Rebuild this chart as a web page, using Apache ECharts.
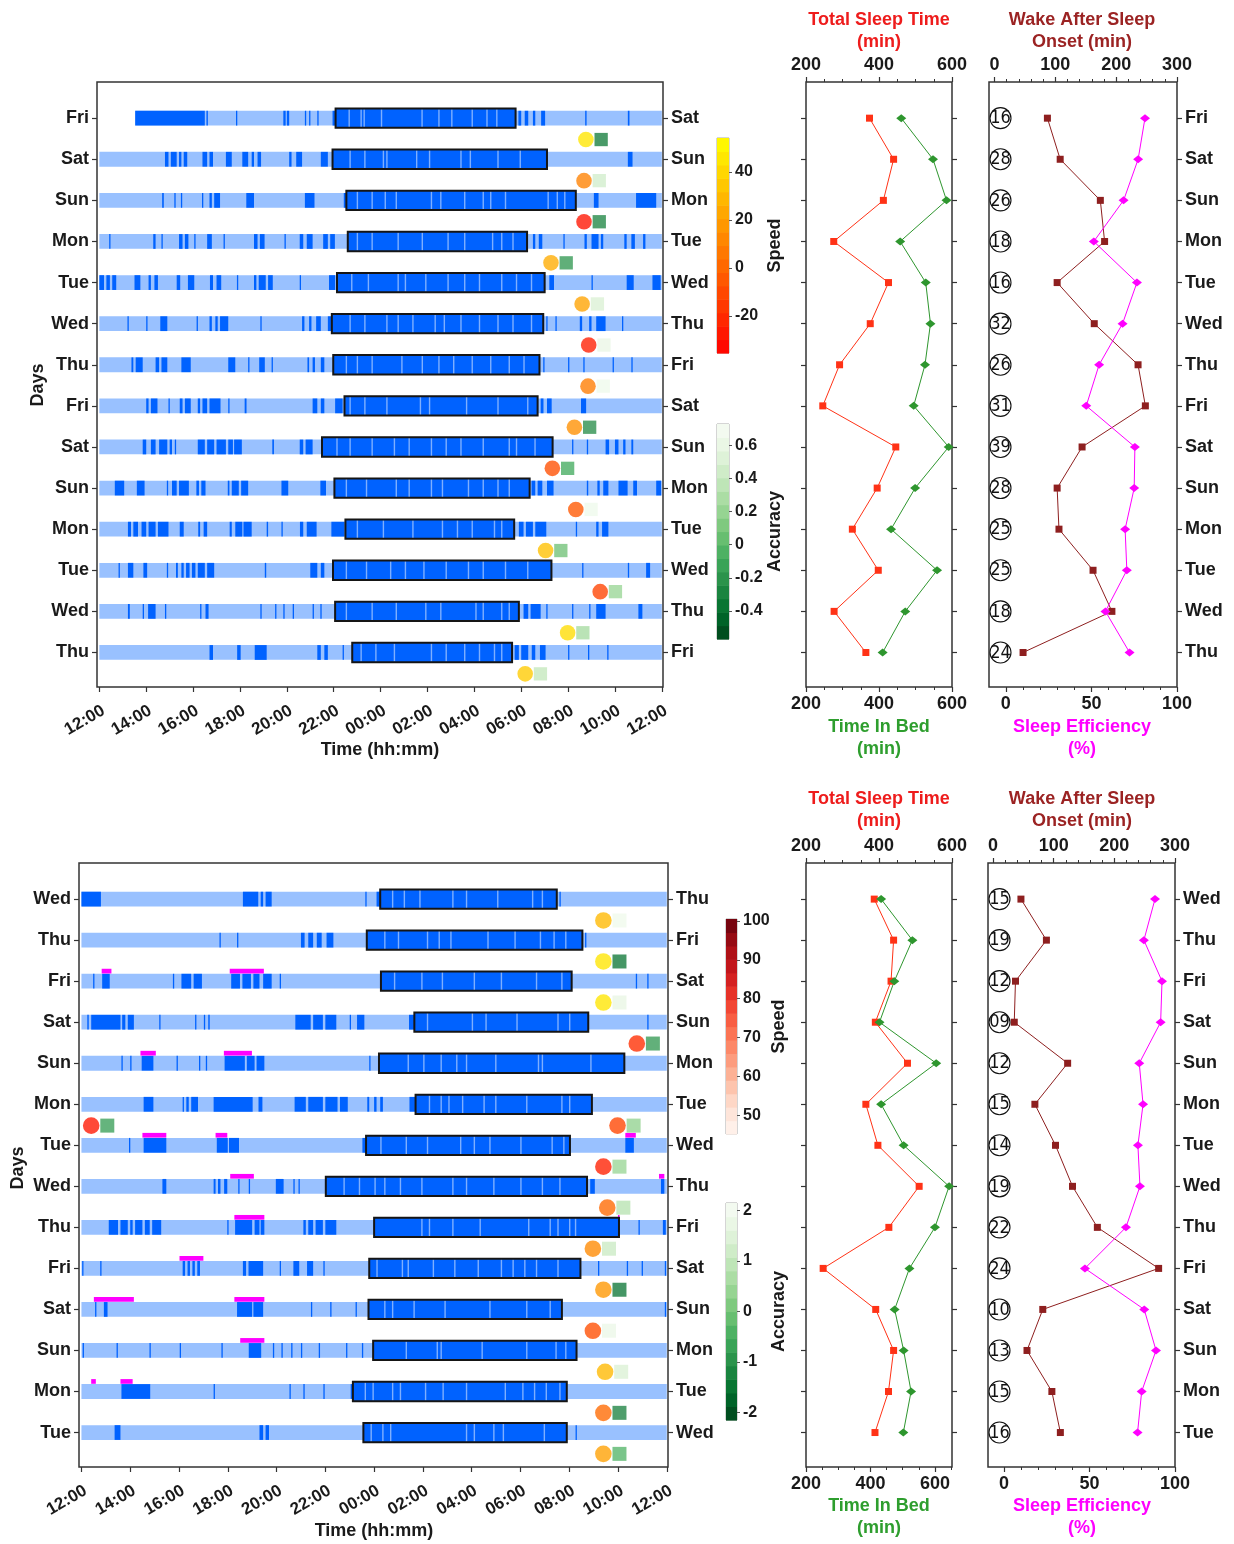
<!DOCTYPE html>
<html><head><meta charset="utf-8">
<script src="https://cdn.jsdelivr.net/npm/echarts@6/dist/echarts.min.js"></script>
<style>html,body{margin:0;padding:0;background:#fff}#c{width:1234px;height:1544px}</style>
</head><body><div id="c"></div><script>
// ================= DATA =================
const timeTickHours = [0,2,4,6,8,10,12,14,16,18,20,22,24];
const timeTickLabels = ['12:00','14:00','16:00','18:00','20:00','22:00','00:00','02:00','04:00','06:00','08:00','10:00','12:00'];
const tstTicks = [200,400,600];
const tstMinorTicks = [250,300,350,450,500,550,650];
const wasoTicks = [0,100,200,300];
const wasoMinorTicks = [20,40,60,80,120,140,160,180,220,240,260,280];
const seTicks = [0,50,100];
const seMinorTicks = [10,20,30,40,60,70,80,90];

// ---------- top panel ----------
const topLeftDays  = ['Fri','Sat','Sun','Mon','Tue','Wed','Thu','Fri','Sat','Sun','Mon','Tue','Wed','Thu'];
const topRightDays = ['Sat','Sun','Mon','Tue','Wed','Thu','Fri','Sat','Sun','Mon','Tue','Wed','Thu','Fri'];
const topBarStart = [1.53,0,0,0,0,0,0,0,0,0,0,0,0,0];
const topBarEnd   = [24,24,24,24,24,24,24,24,24,24,24,24,24,24];
const topActivity = [
 [[1.53,4.5],[4.57,4.63],[5.83,5.88],[7.85,7.95],[8.0,8.1],[8.77,8.82],[8.95,9.0],[9.3,9.35],[9.95,10.08],[17.88,18.0],[18.15,18.3],[18.5,18.6],[18.85,19.02],[20.73,20.79],[22.55,22.62]],
 [[2.8,2.95],[3.05,3.3],[3.4,3.5],[3.6,3.75],[4.4,4.6],[4.7,4.85],[5.4,5.65],[6.1,6.35],[6.5,6.6],[6.75,6.9],[8.1,8.2],[8.4,8.65],[9.45,9.75],[22.55,22.75]],
 [[2.68,2.75],[3.2,3.25],[3.48,3.53],[4.38,4.43],[4.7,4.8],[4.9,5.15],[6.27,6.6],[8.77,9.18],[10.43,10.54],[21.1,21.3],[22.9,23.76]],
 [[0.42,0.47],[2.3,2.4],[2.65,2.7],[3.4,3.55],[3.65,3.8],[4.05,4.1],[4.6,4.8],[5.3,5.35],[6.6,6.75],[6.85,7.05],[7.9,7.95],[8.55,8.7],[8.85,9.1],[9.55,9.75],[9.85,10.05],[18.5,18.6],[18.75,18.9],[19.8,19.85],[20.7,20.8],[21.0,21.3],[21.4,21.5],[22.4,22.5],[22.7,22.85],[23.2,23.3]],
 [[0,0.2],[0.3,0.45],[0.55,0.72],[1.5,1.75],[2.1,2.2],[2.35,2.5],[3.3,3.45],[3.78,4.05],[4.72,4.85],[5.0,5.2],[5.87,5.92],[6.6,6.7],[6.8,7.1],[7.2,7.4],[8.55,8.6],[9.8,10.06],[19.2,19.4],[21.0,21.05],[22.5,22.8],[23.6,23.95]],
 [[1.2,1.25],[2.0,2.05],[2.6,2.9],[4.15,4.2],[4.7,4.8],[4.95,5.05],[5.15,5.5],[6.87,6.92],[8.65,8.75],[8.95,9.05],[9.25,9.45],[9.75,9.9],[19.07,19.12],[19.46,19.51],[20.5,20.6],[20.9,21.0],[21.2,21.6],[22.3,22.35]],
 [[1.37,1.45],[1.55,1.85],[2.4,2.55],[2.65,2.9],[3.5,3.9],[5.5,5.8],[6.35,6.4],[6.82,7.06],[7.35,7.4],[8.88,8.95],[9.1,9.2],[9.45,9.6],[18.94,18.99],[20.0,20.05],[20.65,20.7],[21.9,21.95],[22.7,22.75]],
 [[2.0,2.1],[2.2,2.48],[2.95,3.0],[3.43,3.55],[3.65,3.9],[4.2,4.3],[4.4,4.6],[4.7,5.17],[5.5,5.55],[6.2,6.28],[9.1,9.3],[9.45,9.6],[10.06,10.38],[18.83,18.95],[19.1,19.3],[20.55,20.77]],
 [[1.85,2.0],[2.2,2.4],[2.55,2.9],[3.0,3.1],[3.22,3.27],[4.2,4.5],[4.6,4.9],[5.0,5.4],[5.5,5.7],[5.75,6.08],[7.38,7.45],[8.55,8.7],[8.8,9.1],[20.17,20.22],[20.8,20.85],[21.6,21.75],[22.0,22.15],[22.35,22.45],[22.7,22.78]],
 [[0.66,1.06],[1.6,1.93],[2.88,2.93],[3.1,3.3],[3.4,3.82],[4.14,4.25],[4.35,4.53],[5.48,5.55],[5.65,5.95],[6.05,6.35],[7.77,8.06],[9.43,9.67],[18.44,18.6],[18.7,18.9],[19.1,19.38],[20.8,20.86],[21.25,21.35],[21.5,21.72],[22.15,22.54],[22.78,22.94],[23.76,23.97]],
 [[1.22,1.35],[1.45,1.65],[1.8,2.0],[2.1,2.4],[2.5,2.95],[3.43,3.6],[4.22,4.3],[4.45,4.6],[5.56,5.65],[5.8,6.1],[6.15,6.5],[7.14,7.2],[7.77,7.82],[8.56,8.7],[8.85,9.27],[9.9,10.46],[17.9,18.1],[18.2,18.5],[18.6,19.07],[20.33,20.38],[21.2,21.3],[21.45,21.72]],
 [[0.82,0.87],[1.22,1.45],[1.88,2.04],[2.88,2.93],[3.27,3.35],[3.5,3.6],[3.7,3.85],[3.95,4.1],[4.2,4.5],[4.6,4.9],[7.06,7.12],[9.0,9.3],[9.45,9.6],[20.6,20.65],[22.55,22.6],[23.33,23.5]],
 [[1.22,1.3],[1.85,1.9],[2.08,2.4],[2.8,2.85],[4.3,4.35],[4.53,4.66],[6.87,6.92],[7.5,7.55],[7.85,7.9],[8.25,8.3],[9.1,9.15],[9.43,9.48],[18.1,18.3],[18.4,18.83],[19.07,19.12],[20.17,20.22],[20.9,20.95],[21.2,21.6],[23.0,23.17]],
 [[4.7,4.85],[5.88,6.03],[6.63,7.14],[9.3,9.45],[9.6,9.75],[10.38,10.43],[17.72,17.9],[18.0,18.3],[18.45,18.6],[18.8,19.04],[20.0,20.05],[20.85,20.9],[21.67,21.72]]
];
const topSleep = [[10.08,17.76],[9.95,19.1],[10.54,20.33],[10.6,18.25],[10.14,19.0],[9.92,18.94],[9.98,18.78],[10.46,18.7],[9.5,19.34],[10.03,18.36],[10.5,17.7],[9.97,19.29],[10.06,17.9],[10.79,17.61]];
const topSleepGaps = [
 [10.66,11.17,11.3,12.04,13.77,14.49,15.04,15.91,16.54,16.96],
 [10.7,11.33,12.12,12.27,13.54,14.09,15.43,15.83,17.01,17.96],
 [11.01,11.64,12.2,12.67,14.17,14.57,15.59,16.38,16.7,17.33,19.15,19.54,19.86],
 [11.01,11.64,12.75,13.78,14.88,15.59,16.78,17.17,17.65],
 [10.77,11.48,12.75,13.06,13.93,14.88,15.59,16.22,17.17,17.8,18.44],
 [10.7,11.33,12.27,12.75,13.38,14.33,14.72,15.43,16.22,17.01,17.65,18.44],
 [10.54,11.01,11.64,12.91,13.78,14.49,15.12,15.91,16.7,17.49,18.12],
 [10.7,11.33,12.27,13.7,14.09,15.67,17.01,18.28],
 [10.14,10.7,11.64,12.59,13.22,14.17,14.8,15.43,16.38,17.49,17.8,18.59],
 [10.54,11.4,12.67,13.22,14.17,14.64,15.75,16.38,17.01,17.49],
 [11.01,12.12,13.38,14.64,15.28,15.91,16.86,17.17],
 [10.54,11.4,12.43,13.06,13.85,14.8,15.75,16.38,17.33,18.28],
 [10.54,11.64,12.67,13.93,14.57,16.07,16.38,17.17,17.49],
 [11.17,11.8,12.59,14.17,14.8,15.59,16.22,16.86,17.17]
];
const topMagenta = [[],[],[],[],[],[],[],[],[],[],[],[],[],[]];
const topSpeedRow  = [0,1,2,3,4,5,6,7,8,9,10,11,12,13];
const topSpeedHour = [20.76,20.68,20.68,19.27,20.6,20.88,20.85,20.27,19.33,20.33,19.04,21.37,19.98,18.17];
const topSpeed     = [45,10,-28,25,22,-25,8,15,-8,-5,32,-12,42,36];
const topAccuracy  = [-0.35,0.45,-0.3,-0.2,0.5,0.6,0.65,-0.25,-0.1,0.65,0.05,0.2,0.25,0.38];
const topTST  = [374,440,412,276,426,376,292,246,446,395,327,398,277,364];
const topTIB  = [461,548,585,458,528,541,526,495,591,499,433,559,472,410];
const topWASO = [87,108,174,181,103,164,236,248,144,103,106,162,193,47];
const topSE   = [81.3,77.3,68.8,51.4,76.6,68.2,54.5,47,75.4,75,69.7,70.7,58.2,72.3];
const topCount = [16,28,26,18,16,32,26,31,39,28,25,25,18,24];
const topSpeedRange = [-35.4,54.2];
const topSpeedTicks = [-20,0,20,40];
const topAccRange = [-0.57,0.73];
const topAccTicks = [-0.4,-0.2,0,0.2,0.4,0.6];

// ---------- bottom panel ----------
const botLeftDays  = ['Wed','Thu','Fri','Sat','Sun','Mon','Tue','Wed','Thu','Fri','Sat','Sun','Mon','Tue'];
const botRightDays = ['Thu','Fri','Sat','Sun','Mon','Tue','Wed','Thu','Fri','Sat','Sun','Mon','Tue','Wed'];
const botBarStart = [0,0,0,0,0,0,0,0,0,0,0,0,0,0];
const botBarEnd   = [24,24,24,24,24,24,24,24,24,24,24,24,24,24];
const botActivity = [
 [[0,0.8],[6.62,7.25],[7.35,7.45],[7.55,7.8],[11.64,11.68],[12.1,12.25],[19.6,19.65]],
 [[5.66,5.7],[6.38,6.42],[9.0,9.15],[9.3,9.5],[9.65,9.85],[10.05,10.33],[11.72,11.76],[20.65,20.7]],
 [[0.48,0.52],[0.85,1.16],[3.75,3.79],[4.1,4.5],[4.6,4.94],[6.14,6.5],[6.6,6.95],[7.05,7.3],[7.45,7.8],[8.13,8.17],[22.73,22.77],[23.2,23.24]],
 [[0.24,0.3],[0.4,1.6],[1.67,1.8],[1.9,2.15],[3.19,3.24],[4.66,4.7],[5.02,5.06],[5.2,5.26],[8.77,9.4],[9.5,9.9],[10.0,10.45],[11.0,11.05],[11.3,11.6],[13.43,13.64],[23.2,23.24]],
 [[1.64,1.68],[2.0,2.04],[2.47,2.95],[3.9,3.94],[4.82,4.86],[5.1,5.14],[5.87,6.7],[6.78,7.1],[7.18,7.5],[11.8,11.84]],
 [[2.55,2.95],[4.15,4.2],[4.3,4.4],[4.5,4.78],[5.42,7.02],[7.26,7.42],[8.74,9.2],[9.3,9.9],[10.0,10.5],[10.6,10.92],[11.72,11.8],[12.0,12.1],[12.25,12.36],[13.45,13.72]],
 [[1.95,1.99],[2.55,3.48],[5.55,6.0],[6.05,6.46],[11.52,11.67],[22.3,22.65]],
 [[3.32,3.48],[5.42,5.5],[5.6,5.7],[5.85,5.98],[6.43,6.47],[6.86,6.9],[7.97,8.29],[8.69,8.73],[8.9,8.94],[20.86,21.05],[23.76,23.9]],
 [[1.12,1.5],[1.6,1.9],[2.0,2.1],[2.2,2.5],[2.6,2.8],[2.9,3.27],[5.98,6.02],[6.3,7.0],[7.1,7.3],[7.35,7.5],[9.1,9.2],[9.3,9.5],[9.6,9.9],[10.0,10.45],[12.0,12.04],[22.84,22.88],[23.84,23.96]],
 [[0.03,0.07],[0.77,0.81],[4.15,4.25],[4.35,4.45],[4.55,4.65],[4.75,4.86],[6.62,6.75],[6.85,7.45],[8.13,8.17],[8.69,8.93],[9.25,9.5],[9.92,9.96],[21.18,21.22],[22.36,22.4],[22.97,23.01],[23.92,23.96]],
 [[0.56,0.6],[0.92,1.07],[6.38,7.0],[7.05,7.45],[9.41,9.45],[10.2,10.24],[11.24,11.28],[23.92,23.96]],
 [[0.05,0.09],[1.44,1.48],[2.79,2.83],[4.03,4.07],[5.74,5.78],[6.86,7.37],[7.85,7.89],[8.2,8.24],[8.6,8.64],[9.0,9.04],[9.73,9.77],[10.85,10.89],[11.5,11.54]],
 [[1.64,2.82],[5.42,5.46],[8.53,8.57],[9.1,9.14],[9.92,9.96],[11.04,11.13]],
 [[1.36,1.6],[7.3,7.45],[7.55,7.69],[20.26,20.3]]
];
const botSleep = [[12.25,19.49],[11.7,20.54],[12.28,20.1],[13.65,20.78],[12.2,22.26],[13.7,20.93],[11.67,20.03],[10.02,20.73],[12.0,22.04],[11.8,20.46],[11.77,19.7],[11.96,20.3],[11.13,19.9],[11.56,19.9]];
const botSleepGaps = [
 [12.76,13.24,13.88,15.23,15.79,17.07,18.5,18.9],
 [12.44,13.0,14.19,14.67,15.15,16.67,17.78,18.82,19.38,19.86],
 [12.84,13.96,14.8,16.11,17.22,18.66,19.7],
 [14.19,16.03,16.59,17.86,19.54,20.02],
 [13.4,14.04,14.75,15.39,15.79,16.99,18.74,18.9,20.89],
 [14.27,14.75,15.07,15.63,16.51,16.99,18.26,19.7,20.02],
 [12.28,13.32,14.19,15.55,16.11,16.75,18.02,19.3,19.78],
 [10.77,11.4,12.04,12.44,13.08,13.96,15.23,15.79,16.91,18.02,18.9,19.62],
 [13.96,14.27,15.23,16.35,18.34,19.22,19.54,20.02,20.26],
 [12.12,13.16,13.4,14.43,15.31,16.27,17.22,17.7,18.18,18.66,19.54],
 [12.44,12.76,13.64,14.91,16.75,18.26,19.22],
 [13.32,14.59,14.75,16.43,18.26,19.46,19.86],
 [11.64,11.96,12.76,13.08,14.11,14.83,15.79,17.38,18.1,18.58,19.06,19.62],
 [11.88,12.36,12.68,15.79,16.11,16.91,17.3,18.98]
];
const botMagenta = [[],[],[[0.83,1.23],[6.08,7.48]],[],[[2.42,3.05],[5.84,6.99]],[],[[2.5,3.48],[5.5,5.98],[22.3,22.73]],[[6.1,7.07],[23.68,23.9]],[[6.27,7.5],[22.0,22.06]],[[4.02,5.0]],[[0.51,2.15],[6.27,7.5]],[[6.51,7.5]],[[0.4,0.59],[1.6,2.1]],[]];
const botSpeedRow  = [0,1,2,3,5,5,6,7,8,9,10,11,12,13];
const botSpeedHour = [21.4,21.4,21.4,22.77,0.4,21.98,21.4,21.56,20.97,21.4,20.97,21.47,21.4,21.4];
const botSpeed     = [85,95,95,55,50,60,52,68,75,78,62,85,68,80];
const botAccuracy  = [1.9,-1.5,1.7,-0.9,-0.8,0.3,0.4,0.8,1.1,-1.5,1.8,1.4,-1.3,-0.4];
const botTST  = [387,440,433,390,478,364,397,510,427,247,391,440,426,389];
const botTIB  = [433,530,474,428,604,433,503,644,600,521,475,503,526,502];
const botWASO = [46,88,37,35,123,69,103,131,172,273,82,56,97,111];
const botSE   = [88.3,81.8,92.4,91.6,79.1,81.3,78.3,79.5,71.3,47.3,82,88.9,80.5,78.1];
const botCount = [15,19,12,9,12,15,14,19,22,24,10,13,15,16];
const botSpeedRange = [45.2,100.5];
const botSpeedTicks = [50,60,70,80,90,100];
const botAccRange = [-2.15,2.15];
const botAccTicks = [-2,-1,0,1,2];

// ================= STYLE / HELPERS =================
const FF = '"Liberation Sans", Arial, Helvetica, sans-serif';
const TXT = '#1a1a1a';
const DARK = '#0062ff', LIGHT = '#99c1ff', GAP = '#8cb8ff';
const Y_MIN = -0.88, Y_MAX = 13.84;
const rowIdx = topLeftDays.map((d,i)=>i);

function hex2rgb(h){h=h.replace('#','');return [parseInt(h.substr(0,2),16),parseInt(h.substr(2,2),16),parseInt(h.substr(4,2),16)];}
function stopsMap(stops){const s=stops.map(hex2rgb);return function(t){t=Math.max(0,Math.min(1,t));const n=s.length-1;const i=Math.min(Math.floor(t*n),n-1);const f=t*n-i;const c=[0,1,2].map(k=>Math.round(s[i][k]+(s[i+1][k]-s[i][k])*f));return 'rgb('+c.join(',')+')';};}
const autumn = t=>{t=Math.max(0,Math.min(1,t));return 'rgb(255,'+Math.round(255*t)+',0)';};
const reds = stopsMap(['#fff5f0','#fee0d2','#fcbba1','#fc9272','#fb6a4a','#ef3b2c','#cb181d','#a50f15','#67000d']);
const greensBase = stopsMap(['#f7fcf5','#e5f5e0','#c7e9c0','#a1d99b','#74c476','#41ab5d','#238b45','#006d2c','#00441b']);
const greensR = t=>greensBase(1-t);
const norm = (r)=>v=>(v-r[0])/(r[1]-r[0]);

const grids=[], xAxes=[], yAxes=[], series=[], graphics=[];
function addGrid(l,t,w,h,frame){grids.push({left:l,top:t,width:w,height:h,show:true,borderColor:frame?'#333':'#aaa',borderWidth:frame?1.5:1,backgroundColor:'transparent'});return grids.length-1;}
function addX(a){xAxes.push(a);return xAxes.length-1;}
function addY(a){yAxes.push(a);return yAxes.length-1;}
const lblStyle = {fontSize:18,fontWeight:'bold',fontFamily:FF,color:TXT};

function timeAxis(g){return {type:'value',gridIndex:g,position:'bottom',min:-0.1,max:24.05,
  axisLine:{show:false,onZero:false},splitLine:{show:false},
  axisTick:{show:true,customValues:timeTickHours,length:5,lineStyle:{color:'#333',width:1.2}},
  axisLabel:Object.assign({customValues:timeTickHours,rotate:30,margin:15,align:'right',verticalAlign:'top',formatter:v=>timeTickLabels[timeTickHours.indexOf(v)]},lblStyle,{fontSize:17})};}
function dayAxis(g,pos,labels,ticks){return {type:'value',gridIndex:g,position:pos,inverse:true,min:Y_MIN,max:Y_MAX,
  axisLine:{show:false,onZero:false},splitLine:{show:false},
  axisTick:{show:ticks!==false,customValues:rowIdx,length:5,lineStyle:{color:'#333',width:1.2}},
  axisLabel:Object.assign({show:!!labels,customValues:rowIdx,margin:8,formatter:v=>labels?labels[Math.round(v)]:''},lblStyle)};}
function numAxes(g,pos,min,max,majors,minors){
  const base={type:'value',gridIndex:g,position:pos,min:min,max:max,axisLine:{show:false,onZero:false},splitLine:{show:false}};
  const a=addX(Object.assign({},base,{axisTick:{show:true,customValues:majors,length:5,lineStyle:{color:'#333',width:1.2}},
     axisLabel:Object.assign({customValues:majors,margin:8},lblStyle)}));
  addX(Object.assign({},base,{axisTick:{show:true,customValues:minors.filter(v=>v>min&&v<max),length:3,lineStyle:{color:'#333',width:1}},axisLabel:{show:false}}));
  return a;
}
function rowUnit(api,row){return Math.abs(api.coord([0,row+1])[1]-api.coord([0,row])[1]);}
function rectRender(hFrac,color,minW,yOff){return function(p,api){
  const row=api.value(0),s=api.value(1),e=api.value(2);
  const a=api.coord([s,row]),b=api.coord([e,row]);const u=rowUnit(api,row);
  const hh=hFrac*u,yc=a[1]+(yOff||0)*u;
  return {type:'rect',shape:{x:a[0],y:yc-hh/2,width:Math.max(b[0]-a[0],minW),height:hh},style:{fill:color}};};}
function txt(x,y,text,color,size,rot){return {type:'text',x:x,y:y,rotation:rot||0,z:100,
  style:{text:text,fill:color,font:'bold '+(size||18)+'px '+FF,align:'center',verticalAlign:'middle',textAlign:'center',textVerticalAlign:'middle'}};}

function colorbar(g,range,ticks,cmap){
  const xi=addX({type:'value',gridIndex:g,min:0,max:1,show:false});
  const yi=addY({type:'value',gridIndex:g,position:'right',min:range[0],max:range[1],
    axisLine:{show:false,onZero:false},splitLine:{show:false},
    axisTick:{show:true,customValues:ticks,length:3,lineStyle:{color:'#555',width:1}},
    axisLabel:Object.assign({customValues:ticks,margin:6},lblStyle,{fontSize:16})});
  const n=16,bands=[];
  for(let i=0;i<n;i++)bands.push([range[0]+(range[1]-range[0])*i/n,range[0]+(range[1]-range[0])*(i+1)/n,(i+0.5)/n]);
  series.push({type:'custom',xAxisIndex:xi,yAxisIndex:yi,data:bands,silent:true,z:1,renderItem:(p,api)=>{
    const a=api.coord([0,api.value(0)]),b=api.coord([1,api.value(1)]);
    return {type:'rect',shape:{x:a[0],y:b[1],width:b[0]-a[0],height:a[1]-b[1]+0.6},style:{fill:cmap(api.value(2))}};}});
}

function buildPanel(P){
  const gMain=addGrid(P.main[0],P.main[1],P.main[2],P.main[3],true);
  const gT=addGrid(806,P.main[1],146,P.main[3],true);
  const gW=addGrid(P.wasoLeft,P.main[1],P.wasoWidth,P.main[3],true);
  const gS=addGrid(P.cbLeft,P.cbS[0],P.cbW,P.cbS[1],false);
  const gA=addGrid(P.cbLeft,P.cbA[0],P.cbW,P.cbA[1],false);
  // main actogram
  const xm=addX(timeAxis(gMain));
  const ym=addY(dayAxis(gMain,'left',P.left));
  addY(dayAxis(gMain,'right',P.right));
  const light=P.barStart.map((s,i)=>[i,s,P.barEnd[i]]);
  const act=[];P.activity.forEach((r,i)=>r.forEach(seg=>act.push([i,seg[0],seg[1]])));
  const sleep=P.sleep.map((s,i)=>[i,s[0],s[1]]);
  const gaps=[];P.gaps.forEach((r,i)=>r.forEach(h=>gaps.push([i,h,h])));
  const mag=[];P.magenta.forEach((r,i)=>r.forEach(seg=>mag.push([i,seg[0],seg[1]])));
  const base={type:'custom',xAxisIndex:xm,yAxisIndex:ym,silent:true,encode:{x:[1,2],y:0}};
  series.push(Object.assign({},base,{data:light,z:2,renderItem:rectRender(0.36,LIGHT,0)}));
  series.push(Object.assign({},base,{data:act,z:3,renderItem:rectRender(0.36,DARK,1.3)}));
  series.push(Object.assign({},base,{data:mag,z:3,renderItem:rectRender(0.115,'#ff00ff',1.5,-0.245)}));
  series.push(Object.assign({},base,{data:sleep,z:4,renderItem:rectRender(0.47,DARK,0)}));
  series.push(Object.assign({},base,{data:gaps,z:5,renderItem:(p,api)=>{
    const row=api.value(0),h=api.value(1);const a=api.coord([h,row]);const u=rowUnit(api,row);
    return {type:'rect',shape:{x:a[0]-0.7,y:a[1]-0.22*u,width:1.4,height:0.44*u},style:{fill:GAP,opacity:0.9}};}}));
  series.push(Object.assign({},base,{data:sleep,z:6,renderItem:(p,api)=>{
    const row=api.value(0),s=api.value(1),e=api.value(2);const a=api.coord([s,row]),b=api.coord([e,row]);const u=rowUnit(api,row);const hh=0.47*u;
    return {type:'rect',shape:{x:a[0],y:a[1]-hh/2,width:b[0]-a[0],height:hh},style:{fill:'none',stroke:'#151515',lineWidth:2}};}}));
  const aN=norm(P.accRange);
  const marks=P.speedHour.map((h,i)=>[P.speedRow[i],h,P.speed[i],P.acc[i]]);
  series.push(Object.assign({},base,{data:marks,z:7,encode:{x:1,y:0},renderItem:(p,api)=>{
    const row=api.value(0),h=api.value(1);const c=api.coord([h,row]);const u=rowUnit(api,row);const cy=c[1]+0.52*u;
    const r=P.r,sq=P.sq;
    return {type:'group',children:[
      {type:'circle',shape:{cx:c[0],cy:cy,r:r},style:{fill:P.speedCircleMap(P.circleNorm(api.value(2))),opacity:0.78}},
      {type:'rect',shape:{x:c[0]+r+0.8,y:cy-sq/2,width:sq,height:sq},style:{fill:greensR(aN(api.value(3))),opacity:0.75}}]};}}));
  // TST / TIB
  const xT=numAxes(gT,'top',200,600,tstTicks,tstMinorTicks);
  const xB=numAxes(gT,'bottom',200,P.tibMax,tstTicks,tstMinorTicks);
  const yT=addY(dayAxis(gT,'left',null));
  addY(dayAxis(gT,'right',null));
  series.push({type:'line',xAxisIndex:xT,yAxisIndex:yT,data:P.tst.map((v,i)=>[v,i]),symbol:'rect',symbolSize:7,clip:false,
    lineStyle:{color:'#ff3216',width:1},itemStyle:{color:'#ff3216'},z:5});
  series.push({type:'line',xAxisIndex:xB,yAxisIndex:yT,data:P.tib.map((v,i)=>[v,i]),symbol:'diamond',symbolSize:[10,8],clip:false,
    lineStyle:{color:'#2e962e',width:1},itemStyle:{color:'#2e962e'},z:5});
  // WASO / SE
  const xW=numAxes(gW,'top',P.wasoMin,300,wasoTicks,wasoMinorTicks);
  const xE=numAxes(gW,'bottom',P.seMin,100,seTicks,seMinorTicks);
  const yW=addY(dayAxis(gW,'right',P.left));
  series.push({type:'line',xAxisIndex:xW,yAxisIndex:yW,data:P.waso.map((v,i)=>[v,i]),symbol:'rect',symbolSize:7,clip:false,
    lineStyle:{color:'#8e1f1f',width:1},itemStyle:{color:'#8e1f1f'},z:5});
  series.push({type:'line',xAxisIndex:xE,yAxisIndex:yW,data:P.se.map((v,i)=>[v,i]),symbol:'diamond',symbolSize:[10,8],clip:false,
    lineStyle:{color:'#ff00ff',width:1},itemStyle:{color:'#ff00ff'},z:5});
  series.push({type:'custom',xAxisIndex:xW,yAxisIndex:yW,silent:true,z:6,data:P.count.map((v,i)=>[i,v]),encode:{y:0},renderItem:(p,api)=>{
    const row=api.value(0);const c=api.coord([P.wasoMin,row]);const x=c[0]+11.5;
    return {type:'group',children:[
      {type:'circle',shape:{cx:x,cy:c[1],r:10.5},style:{fill:'none',stroke:'#111',lineWidth:1.1}},
      {type:'text',style:{text:String(api.value(1)).padStart(2,'0'),x:x,y:c[1]+0.5,align:'center',verticalAlign:'middle',textAlign:'center',textVerticalAlign:'middle',font:'18px "Liberation Sans Narrow", "DejaVu Sans Condensed", sans-serif',fill:'#111'}}]};}});
  // colorbars
  colorbar(gS,P.speedRange,P.speedTicks,P.speedBarMap);
  colorbar(gA,P.accRange,P.accTicks,greensR);
  // texts
  const T=P.text;
  graphics.push(txt(T.daysX,T.daysY,'Days',TXT,18,Math.PI/2));
  graphics.push(txt(T.timeX,T.timeY,'Time (hh:mm)',TXT,18));
  graphics.push(txt(879,T.topY,'Total Sleep Time','#ee1c1c',18));
  graphics.push(txt(879,T.topY+22,'(min)','#ee1c1c',18));
  graphics.push(txt(1082,T.topY,'Wake After Sleep','#9b2323',18));
  graphics.push(txt(1082,T.topY+22,'Onset (min)','#9b2323',18));
  graphics.push(txt(879,T.botY,'Time In Bed','#2e9e2e',18));
  graphics.push(txt(879,T.botY+22,'(min)','#2e9e2e',18));
  graphics.push(txt(1082,T.botY,'Sleep Efficiency','#ff00ff',18));
  graphics.push(txt(1082,T.botY+22,'(%)','#ff00ff',18));
  graphics.push(txt(T.cbNameX,P.cbS[0]+P.cbS[1]/2,'Speed',TXT,18,Math.PI/2));
  graphics.push(txt(T.cbNameX,P.cbA[0]+P.cbA[1]/2,'Accuracy',TXT,18,Math.PI/2));
}

buildPanel({main:[97,82,566,605],wasoLeft:989,wasoWidth:188,cbLeft:717,cbW:12,cbS:[138,215],cbA:[424,215],
  left:topLeftDays,right:topRightDays,barStart:topBarStart,barEnd:topBarEnd,activity:topActivity,sleep:topSleep,gaps:topSleepGaps,magenta:topMagenta,
  speedRow:topSpeedRow,speedHour:topSpeedHour,speed:topSpeed,acc:topAccuracy,speedRange:topSpeedRange,speedTicks:topSpeedTicks,accRange:topAccRange,accTicks:topAccTicks,
  speedBarMap:autumn,speedCircleMap:autumn,circleNorm:norm(topSpeedRange),r:7.8,sq:13.3,
  tst:topTST,tib:topTIB,waso:topWASO,se:topSE,count:topCount,tibMax:600,wasoMin:-9,seMin:-9.8,
  text:{daysX:38,daysY:385,timeX:380,timeY:750,topY:20,botY:727,cbNameX:775}});
buildPanel({main:[79,863,589,604],wasoLeft:988,wasoWidth:187,cbLeft:726,cbW:11,cbS:[919,215],cbA:[1203,217],
  left:botLeftDays,right:botRightDays,barStart:botBarStart,barEnd:botBarEnd,activity:botActivity,sleep:botSleep,gaps:botSleepGaps,magenta:botMagenta,
  speedRow:botSpeedRow,speedHour:botSpeedHour,speed:botSpeed,acc:botAccuracy,speedRange:botSpeedRange,speedTicks:botSpeedTicks,accRange:botAccRange,accTicks:botAccTicks,
  speedBarMap:reds,speedCircleMap:autumn,circleNorm:norm(botSpeedRange),r:8.3,sq:14,
  tst:botTST,tib:botTIB,waso:botWASO,se:botSE,count:botCount,tibMax:653,wasoMin:-8.3,seMin:-9.4,
  text:{daysX:18,daysY:1168,timeX:374,timeY:1531,topY:799,botY:1506,cbNameX:779}});

const chart = echarts.init(document.getElementById('c'), null, {renderer:'canvas',width:1234,height:1544});
chart.setOption({animation:false,backgroundColor:'#fff',textStyle:{fontFamily:FF},
  grid:grids,xAxis:xAxes,yAxis:yAxes,series:series,graphic:{elements:graphics}});
</script></body></html>
